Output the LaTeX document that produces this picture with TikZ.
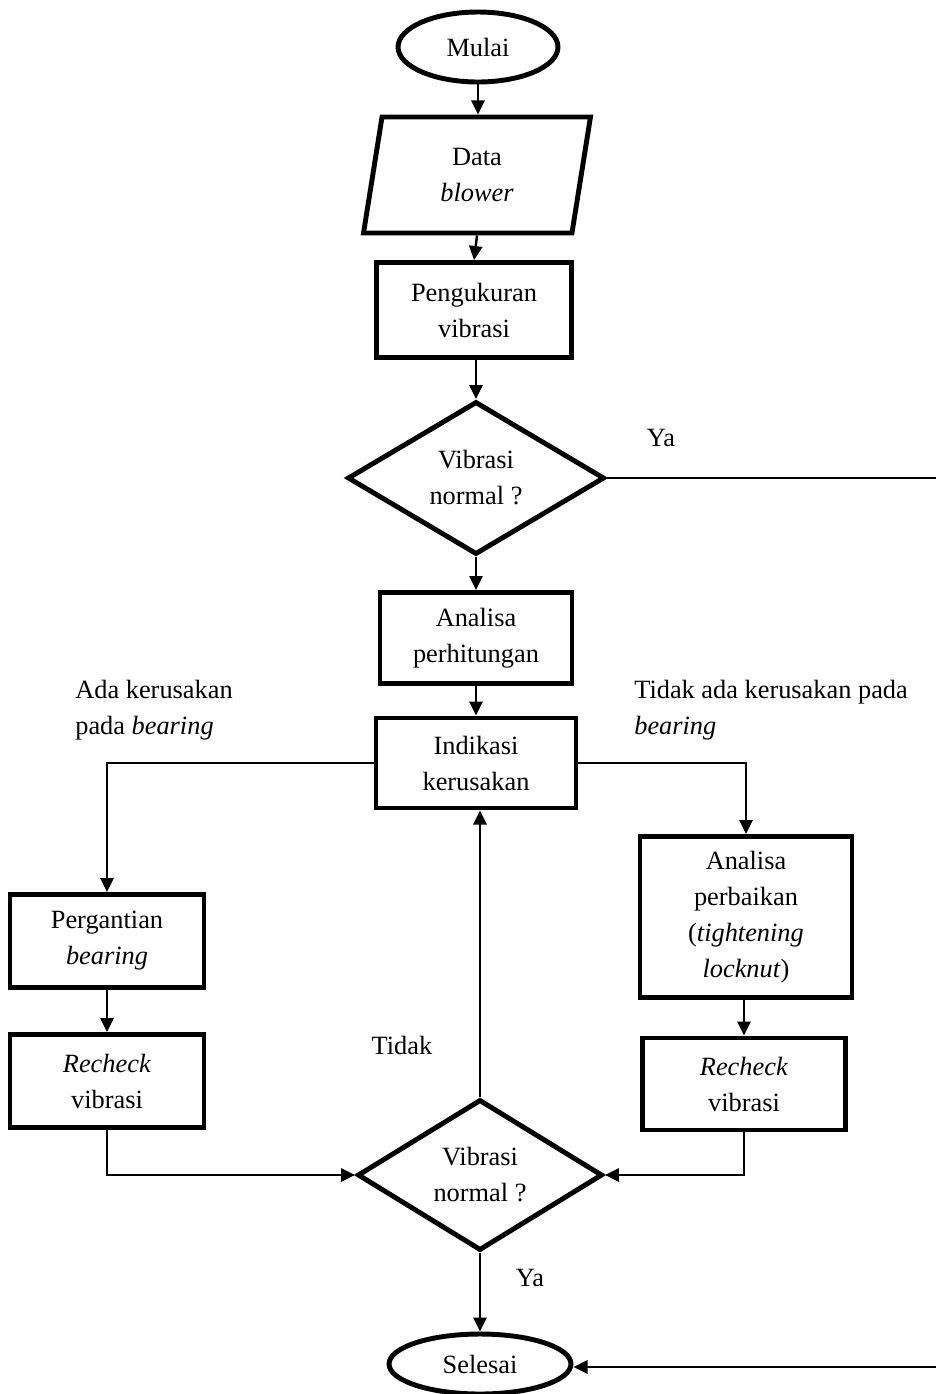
\documentclass[tikz,border=0pt]{standalone}
\usepackage{fontspec}
\setmainfont{Liberation Serif}
\usepackage{tikz}
\usetikzlibrary{arrows.meta,positioning,shapes.geometric}
\tikzset{
  kotak/.style={draw,line width=2.8pt,rectangle,align=center,inner sep=2pt},
  terminal/.style={draw,line width=2.8pt,ellipse,inner sep=0pt},
  keputusan/.style={draw,line width=2.8pt,diamond,align=center,inner sep=0pt},
  masukan/.style={draw,line width=2.8pt,trapezium,trapezium left angle=73,
    trapezium right angle=107,trapezium stretches body,align=center,inner sep=2pt},
  alur/.style={line width=1.4pt,-{Triangle[length=8pt,width=7.5pt]}},
  garis/.style={line width=1.2pt},
  ket/.style={align=left,anchor=west,inner sep=0pt}
}

\begin{document}
\begin{tikzpicture}[x=0.02cm,y=-0.02cm,font=\fontsize{15}{20.5}\selectfont]
    \useasboundingbox (0,0) rectangle (936,1394);
    % alur utama
    \node[terminal,minimum width=3.2cm,minimum height=1.4cm] (mulai) at (478,47) {Mulai};
    \node[masukan,minimum width=4.54cm,minimum height=2.32cm] (data) at (477,175) {Data\\\textit{blower}};
    \node[kotak,minimum width=3.9cm,minimum height=1.9cm] (ukur) at (474,310) {Pengukuran\\vibrasi};
    \node[keputusan,minimum width=5.14cm,minimum height=3.06cm] (cek1) at (476,478) {Vibrasi\\normal ?};
    \node[kotak,minimum width=3.84cm,minimum height=1.82cm] (hitung) at (476,638) {Analisa\\perhitungan};
    \node[kotak,minimum width=4.0cm,minimum height=1.8cm] (indikasi) at (476,763) {Indikasi\\kerusakan};
    % cabang kiri dan kanan
    \node[kotak,minimum width=3.88cm,minimum height=1.86cm] (ganti) at (107,941) {Pergantian\\\textit{bearing}};
    \node[kotak,minimum width=3.88cm,minimum height=1.86cm] (recekkiri) at (107,1081) {\textit{Recheck}\\vibrasi};
    \node[kotak,minimum width=4.24cm,minimum height=3.22cm] (perbaikan) at (746,917) {Analisa\\perbaikan\\(\textit{tightening}\\\textit{locknut})};
    \node[kotak,minimum width=4.06cm,minimum height=1.84cm] (recekkanan) at (744,1084) {\textit{Recheck}\\vibrasi};
    \node[keputusan,minimum width=4.9cm,minimum height=3.02cm] (cek2) at (480,1175) {Vibrasi\\normal ?};
    \node[terminal,minimum width=3.64cm,minimum height=1.2cm] (selesai) at (480,1364) {Selesai};
    % keterangan
    \node (ya1) at (661,438) {Ya};
    \node[ket] (rusak) at (75,710) {Ada kerusakan\\pada \textit{bearing}};
    \node[ket] (tidakrusak) at (634,710) {Tidak ada kerusakan pada\\\textit{bearing}};
    \node (tidak) at (402,1045) {Tidak};
    \node (ya2) at (530,1278) {Ya};
    \coordinate (kananatas) at (938,478);
    \coordinate (kananbawah) at (938,1367);
    % panah
    \draw[alur] (mulai) -- (mulai |- data.north);
    \draw[alur] (data.south) -- (ukur.north);
    \draw[alur] (ukur.south -| cek1) -- (cek1.north);
    \draw[alur] (cek1) -- (hitung);
    \draw[alur] (hitung) -- (indikasi);
    \draw[alur] (indikasi.west) -| (ganti);
    \draw[alur] (indikasi.east) -| (perbaikan);
    \draw[alur] (ganti) -- (recekkiri);
    \draw[alur] (perbaikan.south -| recekkanan) -- (recekkanan.north);
    \draw[alur] (recekkiri) |- (cek2.west);
    \draw[alur] (recekkanan) |- (cek2.east);
    \draw[alur] (cek2.north) -- (cek2.north |- indikasi.south);
    \draw[alur] (cek2) -- (selesai);
    \draw[garis] (cek1.east) -- (kananatas) -- (kananbawah);
    \draw[alur] (kananbawah) -- (selesai.east |- kananbawah);
\end{tikzpicture}
\end{document}
